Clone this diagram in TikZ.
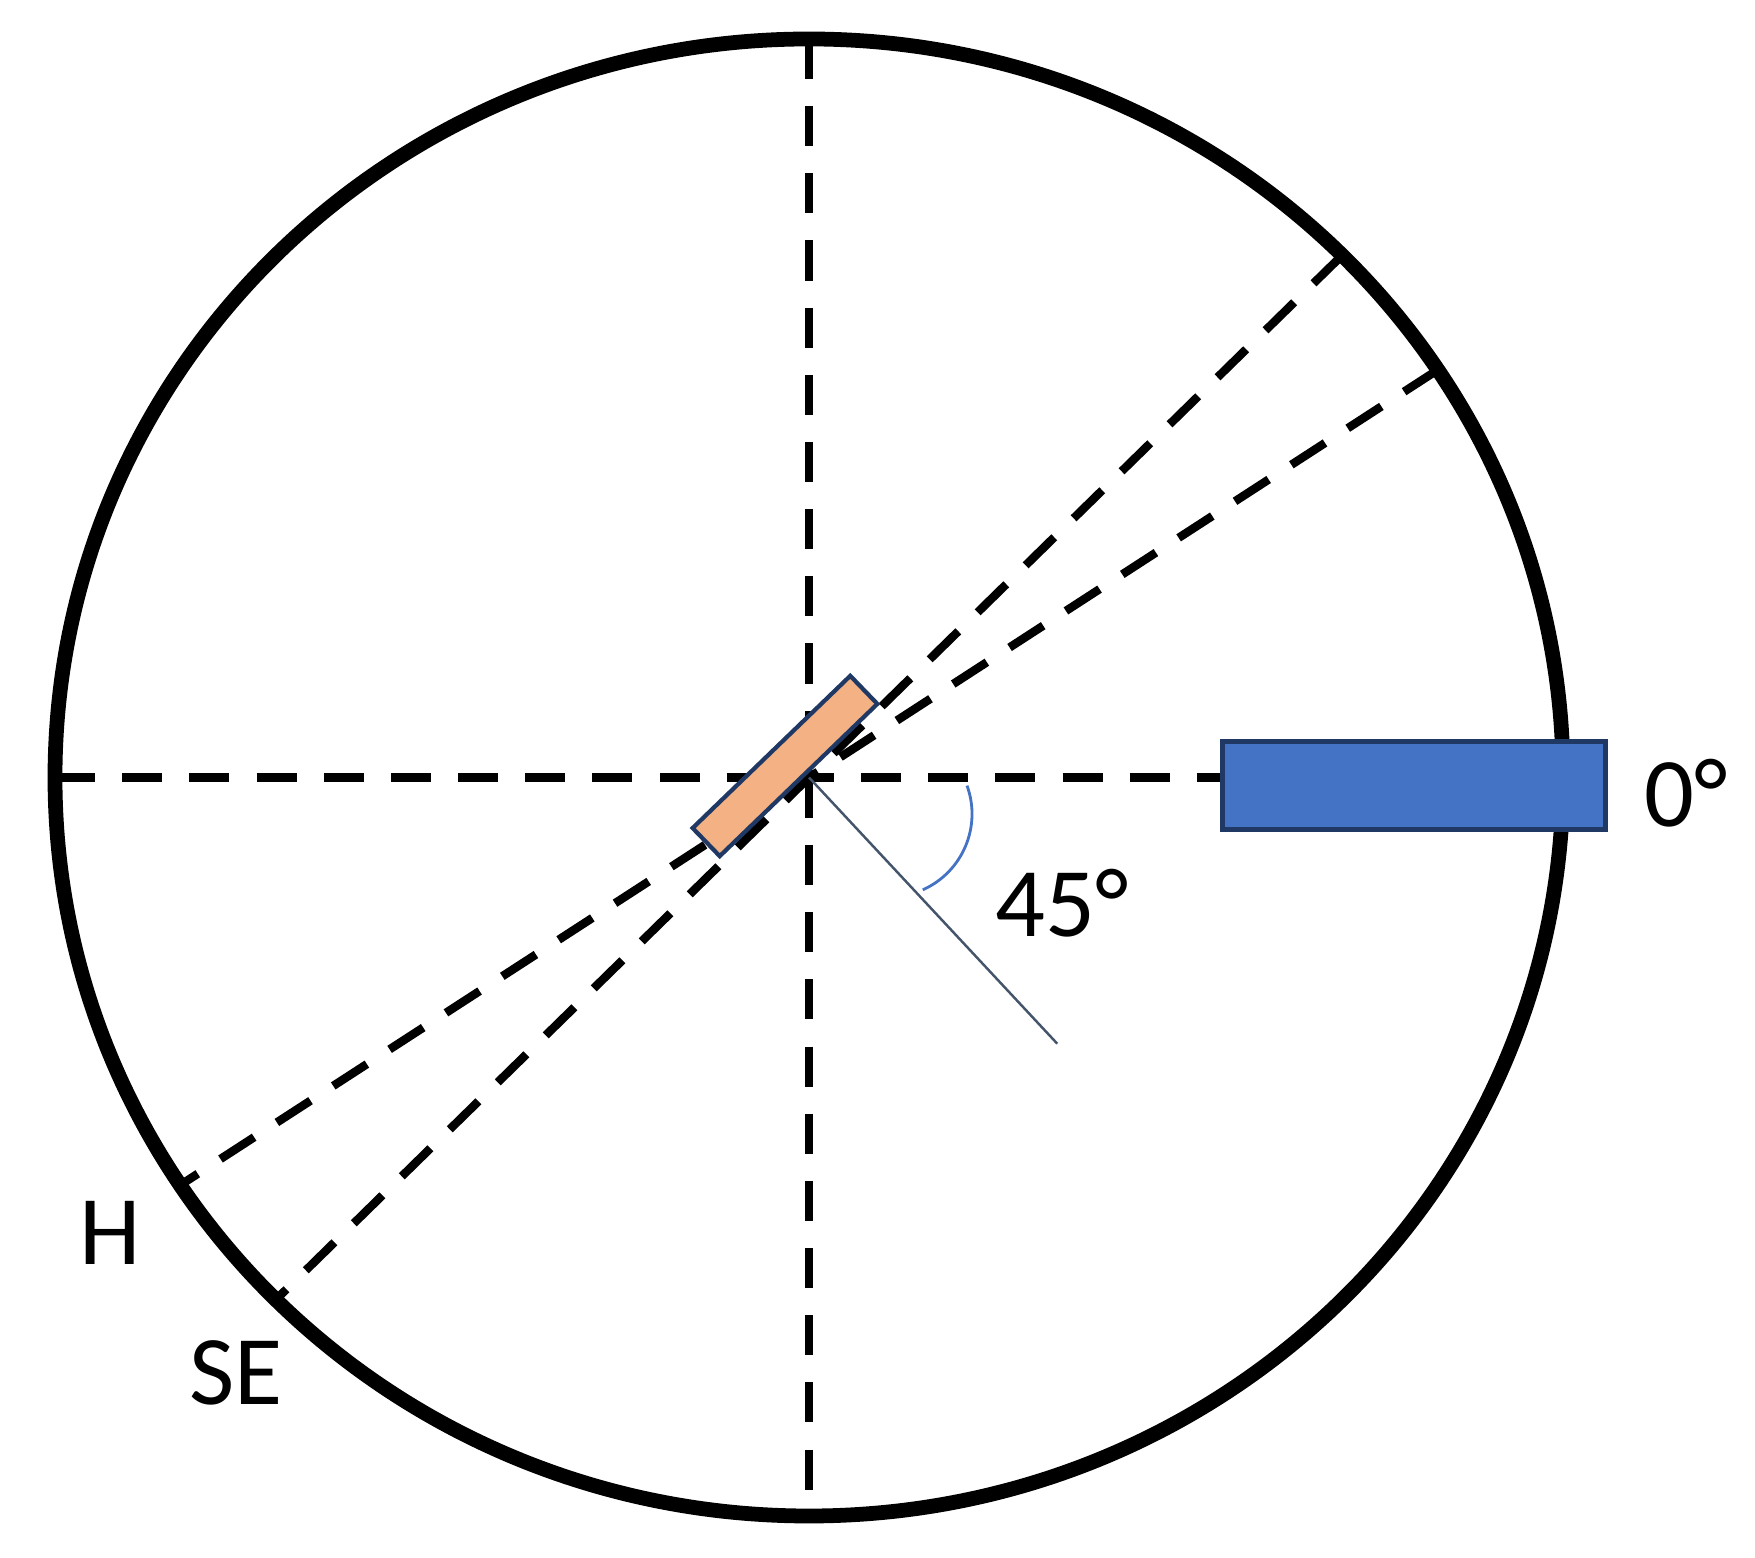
\documentclass[tikz,border=0pt]{standalone}
\usepackage{fontspec}
\setmainfont{Carlito}
\usetikzlibrary{positioning}
\definecolor{edgeblue}{RGB}{31,56,100}
\definecolor{barblue}{RGB}{68,114,196}
\definecolor{sampleorange}{RGB}{244,177,131}
\definecolor{pointergray}{RGB}{68,84,106}
\tikzset{axis/.style={line width=2.4pt,dash pattern=on 11.4pt off 7.7pt}}
\tikzset{lbl/.style={anchor=base,inner sep=0pt,font=\fontsize{28}{34}\selectfont}}

\begin{document}
\begin{tikzpicture}[x=0.01cm,y=0.01cm]
\useasboundingbox (0,0) rectangle (1755,1558);
\coordinate (C) at (809,780.5);
\path (C) ++(180:754 and 738.5) coordinate (W)
      (C) ++(90:754 and 738.5) coordinate (N)
      (C) ++(270:754 and 738.5) coordinate (S)
      (C) ++(45:754 and 738.5) coordinate (se1)
      (C) ++(225:754 and 738.5) coordinate (se2)
      (C) ++(33.5:754 and 738.5) coordinate (h1)
      (C) ++(213.5:754 and 738.5) coordinate (h2);
\draw[line width=4.2pt] (C) ellipse [x radius=754, y radius=738.5];
\node[draw=edgeblue,fill=barblue,line width=1.4pt,minimum width=3.83cm,minimum height=0.88cm,inner sep=0pt] (bar) at (1414,772.5) {};
\draw[axis] (W) -- (W -| bar.west);
\draw[axis] (N) -- (S);
\draw[axis] (se1) -- (se2);
\draw[axis] (h1) -- (h2);
\draw[pointergray,line width=0.7pt] (C) -- ++(-47:364) coordinate (tip);
\draw[barblue,line width=0.8pt] (889,744) ++(20:83) arc[start angle=20,end angle=-66,radius=83];
\node[draw=edgeblue,fill=sampleorange,line width=1.2pt,minimum width=2.19cm,minimum height=0.39cm,inner sep=0pt,rotate=44] (sample) at (785,792) {};
\node[lbl] (zero) at (1686,731) {0°};
\node[lbl] (tilt) at (1062,621) {45°};
\node[lbl] (h) at (110,293) {H};
\node[lbl] (se) at (236,153) {SE};
\end{tikzpicture}
\end{document}
